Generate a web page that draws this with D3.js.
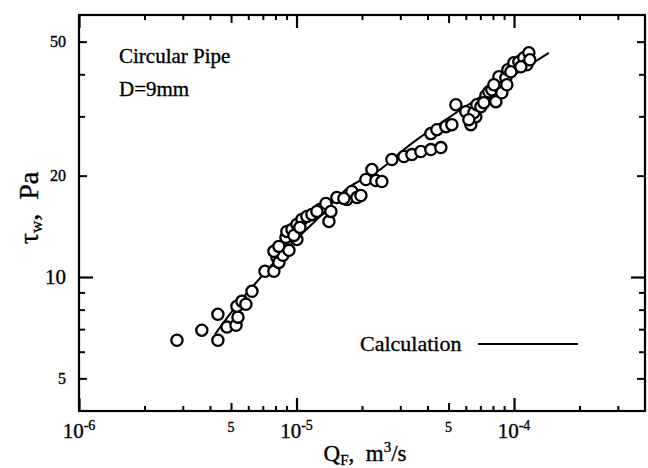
<!DOCTYPE html>
<html><head><meta charset="utf-8">
<script src="https://cdn.jsdelivr.net/npm/d3@7"></script>
<style>
body{margin:0;background:#fff}
text{font-family:"Liberation Serif","Times New Roman",serif;fill:#000;stroke:#000;stroke-width:0.35px}
</style>
</head><body>
<svg id="chart" width="648" height="468"></svg>
<script>
// Measured data: flow rate Q_F (m^3/s) and wall shear stress tau_w (Pa)
const flowRate = [2.82e-6,3.67e-6,4.35e-6,4.35e-6,4.79e-6,5.27e-6,5.38e-6,5.32e-6,5.61e-6,5.85e-6,
  6.24e-6,7.16e-6,7.87e-6,8.13e-6,8.30e-6,8.66e-6,7.87e-6,8.30e-6,8.94e-6,9.03e-6,
  9.23e-6,9.53e-6,1.004e-5,1.004e-5,1.059e-5,1.116e-5,1.177e-5,1.281e-5,1.365e-5,1.409e-5,
  1.439e-5,1.533e-5,1.704e-5,1.797e-5,1.895e-5,2.084e-5,2.221e-5,2.317e-5,2.469e-5,2.744e-5,
  3.116e-5,3.391e-5,3.730e-5,4.146e-5,4.609e-5,4.146e-5,4.418e-5,4.859e-5,5.178e-5,5.402e-5,
  6.003e-5,6.330e-5,6.674e-5,6.534e-5,6.745e-5,7.037e-5,7.420e-5,7.659e-5,7.907e-5,8.250e-5,
  8.516e-5,8.516e-5,8.790e-5,9.170e-5,9.268e-5,9.366e-5,9.98e-5,1.052e-4,1.109e-4,1.145e-4,
  1.170e-4,1.182e-4,9.73e-6,1.036e-5,1.241e-5,1.651e-5,1.977e-5,6.197e-5,7.264e-5,8.076e-5,
  9.668e-5,1.075e-4];
const wallStress = [6.49,6.95,7.75,6.49,7.10,7.19,7.60,8.19,8.47,8.30,
  9.07,10.40,10.40,11.44,11.05,11.60,11.92,12.33,13.11,13.66,
  12.00,13.85,12.93,14.33,14.83,15.13,15.34,15.87,16.53,14.62,
  15.66,17.22,16.99,17.95,17.22,19.48,20.85,19.34,19.21,22.33,
  22.79,23.10,23.58,23.90,24.23,26.66,27.39,27.96,28.35,32.49,
  30.97,28.35,29.93,30.76,32.49,32.05,34.55,35.50,35.99,33.17,
  36.73,39.32,35.26,39.05,37.24,41.25,43.27,43.56,44.77,42.68,
  46.33,44.16,13.29,14.04,15.66,17.11,17.46,29.33,32.94,37.24,
  40.69,42.10];

// Calculation curve
const calcFlow = [4.22e-6,5.32e-6,6.72e-6,9.23e-6,1.267e-5,1.687e-5,2.391e-5,3.285e-5,5.016e-5,8.516e-5,1.445e-4];
const calcStress = [6.76,8.25,9.84,12.33,15.03,18.19,20.71,24.56,29.73,37.24,46.33];

// Axis ticks
const xDecadeTicks = [1e-6,1e-5,1e-4];
const xDecadeExps = ["-6","-5","-4"];
const xFiveTicks = [5e-6,5e-5];
const xFiveLabels = ["5","5"];
const xMinorTicks = [2e-6,3e-6,4e-6,6e-6,7e-6,8e-6,9e-6,2e-5,3e-5,4e-5,6e-5,7e-5,8e-5,9e-5,2e-4,3e-4];
const yMajorTicks = [10];
const yMidTicks = [5,20,50];
const yMinorTicks = [6,7,8,9,30,40];
const yLabelTicks = [5,10,20,50];

const svg = d3.select("#chart");
const L = 79, R = 645, T = 15, B = 411;
const x = d3.scaleLog().domain([1e-6,4e-4]).range([L,R]);
const y = d3.scaleLog().domain([4,60]).range([B,T]);

function tickSet(vals, len, sw){
  const g = svg.append("g");
  g.append("g").attr("transform",`translate(0,${B})`).call(d3.axisBottom(x).tickValues(vals).tickSize(-len).tickFormat(""));
  g.append("g").attr("transform",`translate(0,${T})`).call(d3.axisTop(x).tickValues(vals).tickSize(-len).tickFormat(""));
  g.selectAll(".domain").remove();
  g.selectAll("line").attr("stroke","#000").attr("stroke-width",sw);
}
function yTickSet(vals, len, sw){
  const g = svg.append("g");
  g.append("g").attr("transform",`translate(${L},0)`).call(d3.axisLeft(y).tickValues(vals).tickSize(-len).tickFormat(""));
  g.append("g").attr("transform",`translate(${R},0)`).call(d3.axisRight(y).tickValues(vals).tickSize(-len).tickFormat(""));
  g.selectAll(".domain").remove();
  g.selectAll("line").attr("stroke","#000").attr("stroke-width",sw);
}
tickSet(xDecadeTicks,13,2.2);
tickSet(xFiveTicks,8,2);
tickSet(xMinorTicks,5,2);
yTickSet(yMajorTicks,14,2.2);
yTickSet(yMidTicks,8,2);
yTickSet(yMinorTicks,6,2);

// frame
svg.append("rect").attr("x",L).attr("y",T).attr("width",R-L).attr("height",B-T)
  .attr("fill","none").attr("stroke","#000").attr("stroke-width",2.2);

// x tick labels
xDecadeTicks.forEach((v,i)=>{
  const t = svg.append("text").attr("x",x(v)).attr("y",438).attr("text-anchor","middle").attr("font-size",21);
  t.append("tspan").text("10");
  t.append("tspan").attr("dy",-8).attr("font-size",14).text(xDecadeExps[i]);
});
xFiveTicks.forEach((v,i)=>{
  svg.append("text").attr("x",x(v)).attr("y",432).attr("text-anchor","middle").attr("font-size",14).text(xFiveLabels[i]);
});
// y tick labels
yLabelTicks.forEach(v=>{
  svg.append("text").attr("x",66).attr("y",y(v)).attr("dy","0.35em").attr("text-anchor","end")
    .attr("font-size", v===10?21:16).text(v);
});

// axis titles
const xt = svg.append("text").attr("x",365).attr("y",461).attr("text-anchor","middle").attr("font-size",23);
xt.append("tspan").text("Q");
xt.append("tspan").attr("dy",4).attr("font-size",15).text("F");
xt.append("tspan").attr("dy",-4).text(",\u00a0\u00a0m");
xt.append("tspan").attr("dy",-9).attr("font-size",15).text("3");
xt.append("tspan").attr("dy",9).text("/s");

const yt = svg.append("text").attr("transform","translate(38,208) rotate(-90)").attr("text-anchor","middle").attr("font-size",28);
yt.append("tspan").text("\u03c4");
yt.append("tspan").attr("dy",4).attr("font-size",17).text("w");
yt.append("tspan").attr("dy",-4).text(",\u00a0\u00a0Pa");

// annotations
svg.append("text").attr("x",119).attr("y",63).attr("font-size",21).text("Circular Pipe");
svg.append("text").attr("x",119).attr("y",96).attr("font-size",21).text("D=9mm");

// legend
svg.append("text").attr("x",360).attr("y",351).attr("font-size",22).text("Calculation");
svg.append("line").attr("x1",478).attr("x2",578).attr("y1",344).attr("y2",344).attr("stroke","#000").attr("stroke-width",2.2);

// calculation curve
const calc = calcFlow.map((q,i)=>[q,calcStress[i]]);
svg.append("path").datum(calc)
  .attr("d", d3.line().x(d=>x(d[0])).y(d=>y(d[1])).curve(d3.curveMonotoneX))
  .attr("fill","none").attr("stroke","#000").attr("stroke-width",2);

// data points
const pts = flowRate.map((q,i)=>[q,wallStress[i]]);
svg.append("g").selectAll("circle").data(pts).join("circle")
  .attr("cx",d=>x(d[0])).attr("cy",d=>y(d[1])).attr("r",5.6)
  .attr("fill","#fff").attr("stroke","#000").attr("stroke-width",2.3);
</script>
</body></html>
